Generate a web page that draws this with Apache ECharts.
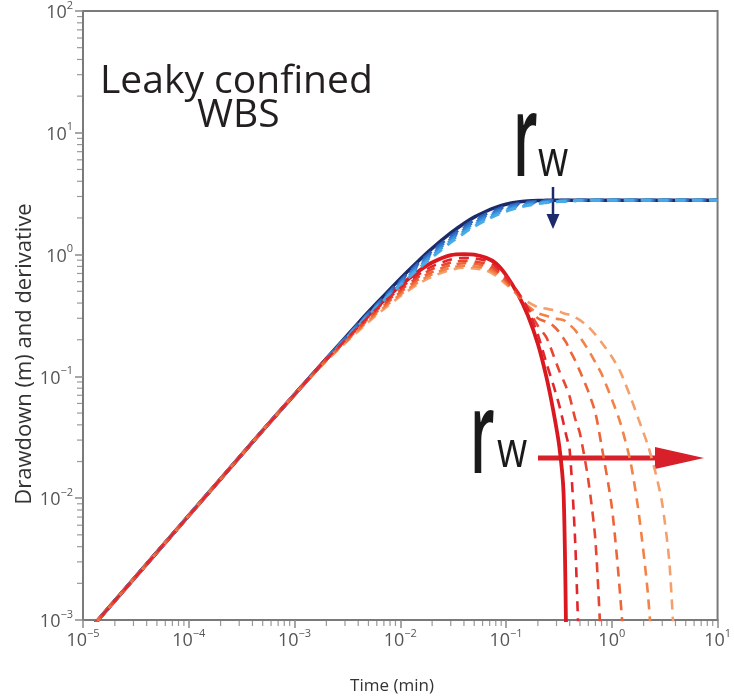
<!DOCTYPE html>
<html>
<head>
<meta charset="utf-8">
<script src="https://cdn.jsdelivr.net/npm/echarts@6/dist/echarts.min.js"></script>
<style>
html,body{margin:0;padding:0;background:#fff;}
#chart{width:734px;height:700px;}
</style>
</head>
<body>
<div id="chart"></div>
<script>
// Time axis (min)
const timeMin = [1e-5, 2e-5, 5e-5, 1e-4, 2e-4, 5e-4, 1e-3, 2e-3, 4e-3, 6e-3, 0.01, 0.015, 0.02, 0.03, 0.04, 0.05, 0.065, 0.08, 0.1, 0.13, 0.16, 0.2, 0.24, 0.28, 0.32, 0.35, 0.37, 0.4, 0.45, 0.5, 0.6, 0.7, 0.8, 1.0, 1.2, 1.5, 1.8, 2.2, 2.6, 3.0, 3.5, 4.0, 5, 10];

// Drawdown (m) – solid (smallest rw) and dashed (increasing rw)
const drawdownSolid = [7.2e-4, 1.44e-3, 3.6e-3, 7.2e-3, 0.0144, 0.036, 0.071, 0.14, 0.274, 0.40, 0.635, 0.896, 1.126, 1.505, 1.80, 2.03, 2.27, 2.44, 2.59, 2.70, 2.75, 2.78, 2.79, 2.8, 2.8, 2.8, 2.8, 2.8, 2.8, 2.8, 2.8, 2.8, 2.8, 2.8, 2.8, 2.8, 2.8, 2.8, 2.8, 2.8, 2.8, 2.8, 2.8, 2.8];
const drawdownDashed1 = [7.2e-4, 1.44e-3, 3.6e-3, 7.2e-3, 0.0144, 0.036, 0.071, 0.139, 0.27, 0.39, 0.61, 0.86, 1.07, 1.42, 1.70, 1.92, 2.16, 2.33, 2.49, 2.62, 2.70, 2.75, 2.77, 2.78, 2.79, 2.79, 2.79, 2.8, 2.8, 2.8, 2.8, 2.8, 2.8, 2.8, 2.8, 2.8, 2.8, 2.8, 2.8, 2.8, 2.8, 2.8, 2.8, 2.8];
const drawdownDashed2 = [7.2e-4, 1.44e-3, 3.6e-3, 7.2e-3, 0.0144, 0.036, 0.071, 0.139, 0.268, 0.385, 0.60, 0.84, 1.04, 1.38, 1.65, 1.86, 2.10, 2.27, 2.44, 2.58, 2.66, 2.72, 2.75, 2.765, 2.775, 2.78, 2.785, 2.79, 2.795, 2.8, 2.8, 2.8, 2.8, 2.8, 2.8, 2.8, 2.8, 2.8, 2.8, 2.8, 2.8, 2.8, 2.8, 2.8];
const drawdownDashed3 = [7.2e-4, 1.44e-3, 3.6e-3, 7.2e-3, 0.0144, 0.036, 0.071, 0.138, 0.265, 0.38, 0.585, 0.82, 1.01, 1.34, 1.60, 1.81, 2.05, 2.22, 2.39, 2.53, 2.62, 2.69, 2.72, 2.74, 2.755, 2.76, 2.77, 2.775, 2.785, 2.79, 2.795, 2.8, 2.8, 2.8, 2.8, 2.8, 2.8, 2.8, 2.8, 2.8, 2.8, 2.8, 2.8, 2.8];
const drawdownDashed4 = [7.2e-4, 1.44e-3, 3.6e-3, 7.2e-3, 0.0144, 0.036, 0.071, 0.138, 0.262, 0.375, 0.572, 0.795, 0.98, 1.30, 1.55, 1.75, 1.99, 2.16, 2.33, 2.48, 2.57, 2.65, 2.69, 2.72, 2.735, 2.745, 2.75, 2.76, 2.77, 2.78, 2.79, 2.795, 2.8, 2.8, 2.8, 2.8, 2.8, 2.8, 2.8, 2.8, 2.8, 2.8, 2.8, 2.8];
const drawdownDashed5 = [7.2e-4, 1.44e-3, 3.6e-3, 7.2e-3, 0.0144, 0.036, 0.071, 0.137, 0.26, 0.37, 0.56, 0.77, 0.95, 1.26, 1.50, 1.70, 1.93, 2.10, 2.27, 2.43, 2.53, 2.62, 2.67, 2.71, 2.73, 2.74, 2.745, 2.76, 2.77, 2.78, 2.79, 2.795, 2.8, 2.8, 2.8, 2.8, 2.8, 2.8, 2.8, 2.8, 2.8, 2.8, 2.8, 2.8];

// Derivative – solid and dashed
const derivSolid = [7.2e-4, 1.44e-3, 3.6e-3, 7.2e-3, 0.0144, 0.036, 0.071, 0.139, 0.26, 0.37, 0.557, 0.734, 0.861, 0.99, 1.01, 1.0, 0.94, 0.85, 0.68, 0.47, 0.32, 0.185, 0.1, 0.052, 0.026, 0.011, 0.0007, null, null, null, null, null, null, null, null, null, null, null, null, null, null, null, null, null];
const derivDashed1 = [7.2e-4, 1.44e-3, 3.6e-3, 7.2e-3, 0.0144, 0.036, 0.071, 0.138, 0.255, 0.36, 0.53, 0.69, 0.80, 0.91, 0.94, 0.93, 0.89, 0.80, 0.66, 0.49, 0.36, 0.22, 0.13, 0.085, 0.057, 0.041, 0.033, 0.0247, 0.0045, 0.0003, null, null, null, null, null, null, null, null, null, null, null, null, null, null];
const derivDashed2 = [7.2e-4, 1.44e-3, 3.6e-3, 7.2e-3, 0.0144, 0.036, 0.071, 0.137, 0.25, 0.35, 0.51, 0.66, 0.76, 0.86, 0.89, 0.88, 0.84, 0.76, 0.63, 0.48, 0.36, 0.26, 0.21, 0.15, 0.11, 0.092, 0.082, 0.068, 0.045, 0.034, 0.014, 0.0045, 0.0005, null, null, null, null, null, null, null, null, null, null, null];
const derivDashed3 = [7.2e-4, 1.44e-3, 3.6e-3, 7.2e-3, 0.0144, 0.036, 0.071, 0.136, 0.245, 0.34, 0.49, 0.63, 0.72, 0.82, 0.85, 0.84, 0.80, 0.73, 0.61, 0.47, 0.37, 0.30, 0.28, 0.26, 0.23, 0.205, 0.19, 0.165, 0.135, 0.11, 0.075, 0.05, 0.027, 0.0085, 0.0016, 0.0001, null, null, null, null, null, null, null, null];
const derivDashed4 = [7.2e-4, 1.44e-3, 3.6e-3, 7.2e-3, 0.0144, 0.036, 0.071, 0.135, 0.24, 0.33, 0.47, 0.60, 0.69, 0.78, 0.81, 0.80, 0.77, 0.70, 0.59, 0.46, 0.38, 0.33, 0.315, 0.30, 0.295, 0.29, 0.28, 0.265, 0.24, 0.21, 0.165, 0.13, 0.105, 0.065, 0.042, 0.02, 0.0075, 0.0016, 0.0002, null, null, null, null, null];
const derivDashed5 = [7.2e-4, 1.44e-3, 3.6e-3, 7.2e-3, 0.0144, 0.036, 0.071, 0.134, 0.235, 0.32, 0.455, 0.58, 0.66, 0.75, 0.78, 0.77, 0.74, 0.67, 0.57, 0.47, 0.41, 0.37, 0.36, 0.35, 0.34, 0.33, 0.325, 0.32, 0.305, 0.29, 0.255, 0.22, 0.19, 0.145, 0.11, 0.068, 0.044, 0.027, 0.016, 0.009, 0.003, 0.0004, null, null];

// Tick label exponents (decades) and minor tick multipliers
const xTickExponents = [-5, -4, -3, -2, -1, 0, 1];
const yTickExponents = [-3, -2, -1, 0, 1, 2];
const minorMultipliers = [2, 3, 4, 5, 6, 7, 8, 9];

const blueDashColors = ['#2a5fb4', '#2f70c6', '#3583d4', '#3c97df', '#48abe8'];
const redDashColors = ['#e3262b', '#e9462f', '#ee6538', '#f28248', '#f5a06c'];

function pairs(arr) {
  const out = [];
  timeMin.forEach((t, i) => { if (arr[i] != null) out.push([t, arr[i]]); });
  return out;
}
function minorValues(exps) {
  const out = [];
  exps.slice(0, -1).forEach(e => minorMultipliers.forEach(m => out.push(Number((m * Math.pow(10, e)).toPrecision(6)))));
  return out;
}
function expLabel(v, list) {
  const e = Math.round(Math.log10(v));
  if (list.indexOf(e) < 0) return '';
  const s = e < 0 ? '\u2212' + (-e) : String(e);
  return '{b|10}{s|' + s + '}';
}

const richLab = {
  b: { fontSize: 18, fontFamily: 'Open Sans', color: '#555', lineHeight: 22, verticalAlign: 'bottom' },
  s: { fontSize: 11, fontFamily: 'Open Sans', color: '#555', lineHeight: 11, verticalAlign: 'top' }
};

const SM = 0.25;
const series = [];
series.push({ type: 'line', name: 'drawdown', data: pairs(drawdownSolid), symbol: 'none', smooth: SM,
  lineStyle: { color: '#1b2a6b', width: 3.5 }, z: 2 });
series.push({ type: 'line', name: 'derivative', data: pairs(derivSolid), symbol: 'none', smooth: SM,
  lineStyle: { color: '#d9181f', width: 3.8 }, z: 3 });
[drawdownDashed1, drawdownDashed2, drawdownDashed3, drawdownDashed4, drawdownDashed5].forEach((arr, k) => {
  series.push({ type: 'line', data: pairs(arr), symbol: 'none', smooth: SM,
    lineStyle: { color: blueDashColors[k], width: 3, type: [10, 7], dashOffset: k * 2 }, z: 4 });
});
[derivDashed5, derivDashed4, derivDashed3, derivDashed2, derivDashed1].forEach((arr, j) => {
  const k = 4 - j;
  series.push({ type: 'line', data: pairs(arr), symbol: 'none', smooth: SM,
    lineStyle: { color: redDashColors[k], width: 2.6, type: [10, 7], dashOffset: k * 3 + 5 }, z: 5 });
});

// minor ticks drawn through the axes' own scales
series.push({
  type: 'custom', silent: true, clip: false, z: 1,
  data: minorValues(xTickExponents).map(v => [v, 1e-3]),
  renderItem: (params, api) => {
    const p = api.coord([api.value(0), api.value(1)]);
    return { type: 'line', shape: { x1: p[0], y1: p[1] + 1, x2: p[0], y2: p[1] + 6 }, style: { stroke: '#999', lineWidth: 1.2 } };
  }
});
series.push({
  type: 'custom', silent: true, clip: false, z: 1,
  data: minorValues(yTickExponents).map(v => [1e-5, v]),
  renderItem: (params, api) => {
    const p = api.coord([api.value(0), api.value(1)]);
    return { type: 'line', shape: { x1: p[0] - 1, y1: p[1], x2: p[0] - 6, y2: p[1] }, style: { stroke: '#999', lineWidth: 1.2 } };
  }
});

const chart = echarts.init(document.getElementById('chart'), null, { renderer: 'canvas' });
chart.setOption({
  animation: false,
  backgroundColor: '#fff',
  grid: { left: 83, right: 13, top: 10, bottom: 80, show: true, borderColor: '#7a7a7a', borderWidth: 2 },
  xAxis: {
    type: 'log', logBase: 10, min: 1e-5, max: 10, splitNumber: 6,
    axisLine: { show: true, lineStyle: { color: '#7a7a7a', width: 2 } },
    axisTick: { show: true, inside: false, length: 8, lineStyle: { color: '#8a8a8a', width: 1.5 } },
    splitLine: { show: false },
    axisLabel: { margin: 8, formatter: v => expLabel(v, xTickExponents), rich: richLab }
  },
  yAxis: {
    type: 'log', logBase: 10, min: 1e-3, max: 100, splitNumber: 5,
    axisLine: { show: true, lineStyle: { color: '#7a7a7a', width: 2 } },
    axisTick: { show: true, inside: false, length: 8, lineStyle: { color: '#8a8a8a', width: 1.5 } },
    splitLine: { show: false },
    axisLabel: { margin: 10, formatter: v => expLabel(v, yTickExponents), rich: richLab }
  },
  series: series,
  graphic: [
    { type: 'text', x: 100, y: 62, style: { text: 'Leaky confined', font: '39px "Open Sans"', fill: '#231f20' } },
    { type: 'text', x: 197, y: 96, style: { text: 'WBS', font: '39px "Open Sans"', fill: '#231f20' } },
    { type: 'text', x: 513, y: 87, scaleX: 0.5, style: { text: 'r', font: '600 114px "Open Sans"', fill: '#1a1a1a' } },
    { type: 'text', x: 538, y: 137, scaleX: 0.78, style: { text: 'w', font: '50px "Open Sans"', fill: '#1a1a1a' } },
    { type: 'text', x: 470, y: 384, scaleX: 0.5, style: { text: 'r', font: '600 114px "Open Sans"', fill: '#1a1a1a' } },
    { type: 'text', x: 497, y: 428, scaleX: 0.78, style: { text: 'w', font: '50px "Open Sans"', fill: '#1a1a1a' } },
    { type: 'line', shape: { x1: 553, y1: 187, x2: 553, y2: 218 }, style: { stroke: '#1b2a6b', lineWidth: 2.5 } },
    { type: 'polygon', shape: { points: [[546.5, 214], [559.5, 214], [553, 229]] }, style: { fill: '#1b2a6b' } },
    { type: 'line', shape: { x1: 538, y1: 458, x2: 660, y2: 458 }, style: { stroke: '#d7202a', lineWidth: 5 } },
    { type: 'polygon', shape: { points: [[655, 447], [704, 458], [655, 469]] }, style: { fill: '#d7202a' } },
    { type: 'text', x: 392, y: 686, style: { text: 'Time (min)', font: '17px "Open Sans"', fill: '#333', align: 'center', verticalAlign: 'middle' } },
    { type: 'text', x: 25, y: 354, rotation: Math.PI / 2, style: { text: 'Drawdown (m) and derivative', font: '22px "Open Sans"', fill: '#333', align: 'center', verticalAlign: 'middle' } }
  ]
});
</script>
</body>
</html>
